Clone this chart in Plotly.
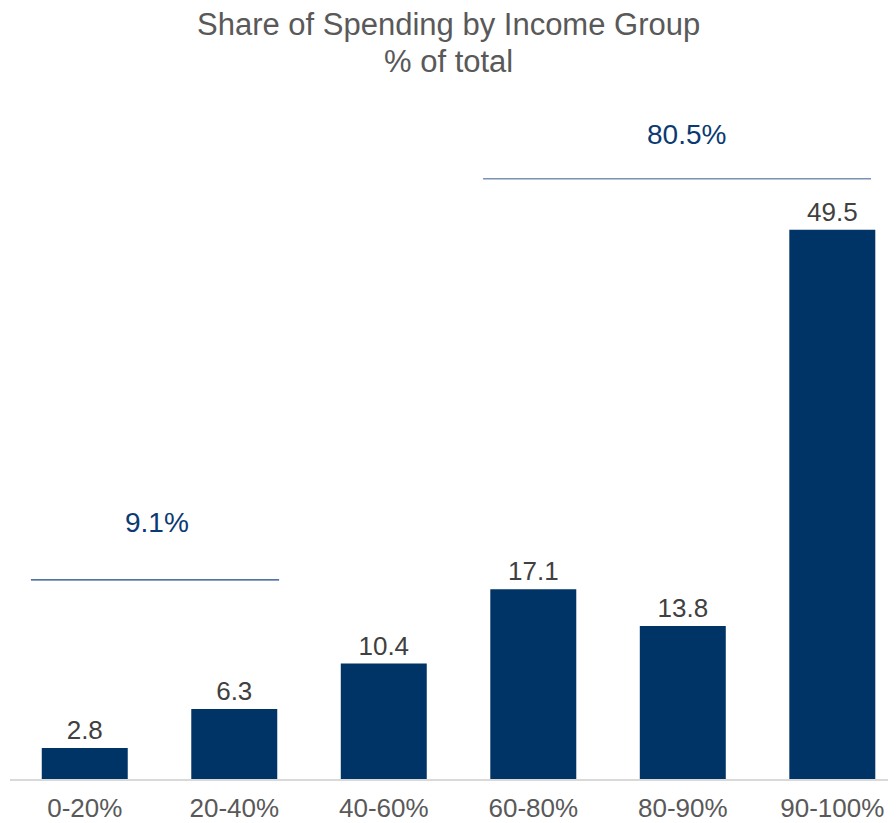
import plotly.graph_objects as go

categories = ["0-20%", "20-40%", "40-60%", "60-80%", "80-90%", "90-100%"]
shares = [2.8, 6.3, 10.4, 17.1, 13.8, 49.5]
bar_labels = ["2.8", "6.3", "10.4", "17.1", "13.8", "49.5"]
group_labels = ["9.1%", "80.5%"]
title_lines = ["Share of Spending by Income Group", "% of total"]

FONT = "Arial, 'Liberation Sans', sans-serif"
NAVY = "#003366"

fig = go.Figure()
fig.add_trace(go.Bar(
    x=list(range(len(categories))),
    y=shares,
    text=bar_labels,
    textposition="outside",
    textfont=dict(family=FONT, size=26, color="#404040"),
    marker=dict(color=NAVY, line=dict(width=0)),
    width=0.575,
    cliponaxis=False,
    hoverinfo="skip",
))

# Bracket lines for grouped shares
fig.add_shape(type="line", xref="x", yref="y", x0=-0.36, x1=1.30, y0=17.94, y1=17.94,
              line=dict(color="#1a4480", width=1.3))
fig.add_shape(type="line", xref="x", yref="y", x0=2.664, x1=5.259, y0=54.1, y1=54.1,
              line=dict(color="#7a92b4", width=1.3))

fig.add_annotation(x=0.483, y=23.08, xref="x", yref="y", text=group_labels[0],
                   showarrow=False, font=dict(family=FONT, size=28, color="#0b3a72"))
fig.add_annotation(x=4.022, y=58.07, xref="x", yref="y", text=group_labels[1],
                   showarrow=False, font=dict(family=FONT, size=28, color="#0b3a72"))

# Title as two centred lines
fig.add_annotation(x=0.4944, y=1.1105, xref="paper", yref="paper", text=title_lines[0],
                   showarrow=False, xanchor="center", yanchor="middle",
                   font=dict(family=FONT, size=31, color="#595959"))
fig.add_annotation(x=0.4944, y=1.056, xref="paper", yref="paper", text=title_lines[1],
                   showarrow=False, xanchor="center", yanchor="middle",
                   font=dict(family=FONT, size=31, color="#595959"))

fig.update_layout(
    width=888, height=815,
    margin=dict(l=2, r=0, t=92, b=44),
    paper_bgcolor="white", plot_bgcolor="white",
    showlegend=False,
    xaxis=dict(
        tickmode="array",
        tickvals=list(range(len(categories))),
        ticktext=categories,
        range=[-0.5, 5.426],
        showgrid=False, zeroline=False,
        showline=True, linecolor="#d9d9d9", linewidth=2,
        ticks="", ticklabelstandoff=5,
        tickfont=dict(family=FONT, size=26, color="#595959"),
    ),
    yaxis=dict(
        range=[0, 61.2],
        visible=False, showgrid=False, zeroline=False,
    ),
)

fig.write_html("out.html")
